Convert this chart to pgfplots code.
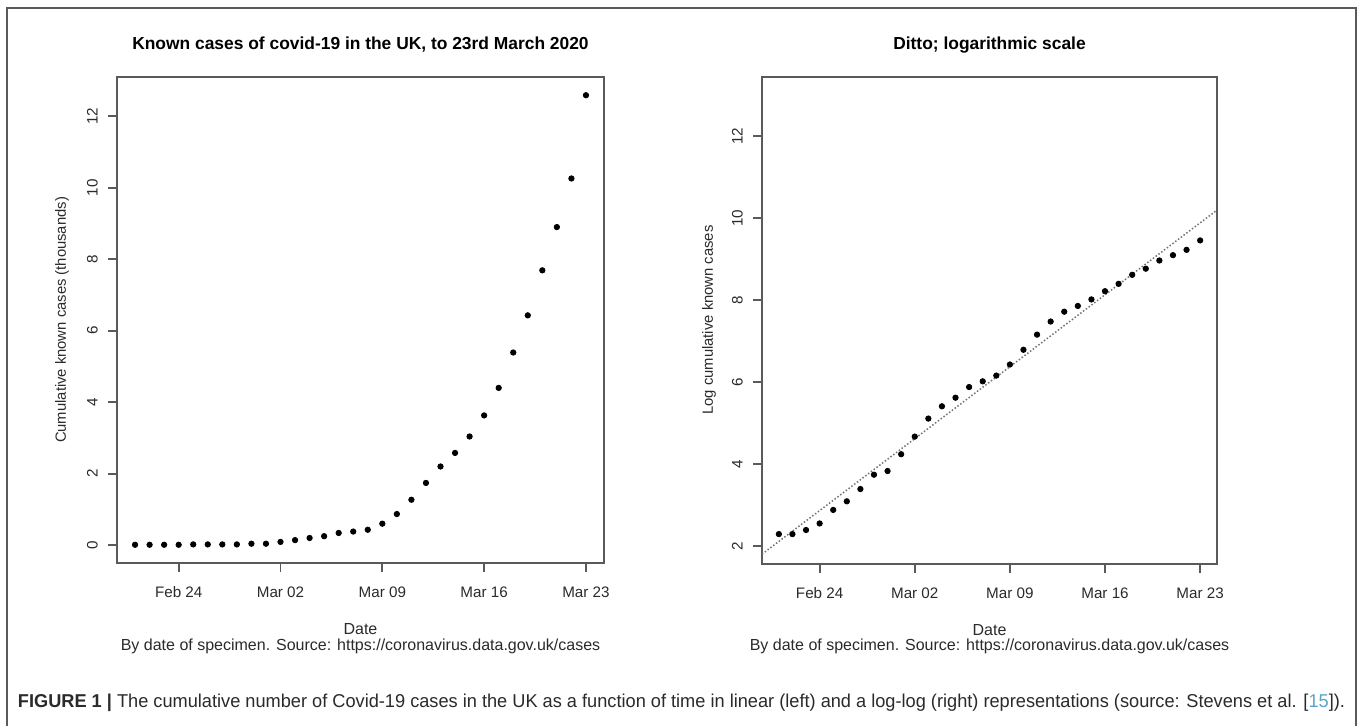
\documentclass[border=0pt]{standalone}
\usepackage{fontspec}
\setmainfont{Liberation Sans}
\usepackage{graphicx}
\usepackage{pgfplots}
\usepackage{pgfplotstable}
\pgfplotsset{compat=1.18}
\definecolor{axgray}{HTML}{5A5A5A}
\definecolor{txt}{HTML}{2A2A2A}
\definecolor{capblue}{HTML}{5BA3C9}

\pgfplotstableread{
day val
-3 0.01
-2 0.01
-1 0.01
0 0.01
1 0.02
2 0.02
3 0.02
4 0.02
5 0.04
6 0.04
7 0.09
8 0.14
9 0.20
10 0.25
11 0.34
12 0.38
13 0.43
14 0.60
15 0.87
16 1.27
17 1.74
18 2.20
19 2.58
20 3.04
21 3.63
22 4.40
23 5.39
24 6.43
25 7.69
26 8.90
27 10.26
28 12.59
}\lineartable

\pgfplotstableread{
day val
-3 2.29
-2 2.29
-1 2.39
0 2.55
1 2.88
2 3.09
3 3.39
4 3.74
5 3.83
6 4.24
7 4.67
8 5.11
9 5.41
10 5.62
11 5.88
12 6.02
13 6.16
14 6.43
15 6.79
16 7.16
17 7.48
18 7.72
19 7.86
20 8.02
21 8.22
22 8.40
23 8.62
24 8.77
25 8.97
26 9.10
27 9.23
28 9.46
}\logtable

\pgfplotstableread{
day val
-4.24 1.80
29.24 10.20
}\fittable

\pgfplotsset{rstyle/.style={
  scale only axis,
  axis line style={axgray, line width=0.9pt},
  xmin=-4.24, xmax=29.24,
  xtick={0,7,14,21,28},
  xticklabels={Feb 24, Mar 02, Mar 09, Mar 16, Mar 23},
  xtick pos=left, ytick pos=left,
  tick align=outside,
  major tick length=4.5pt,
  tick style={axgray, line width=0.9pt},
  ticklabel style={font=\fontsize{7.6}{9}\selectfont, text=txt},
  xticklabel style={text height=1.6ex, text depth=0.2ex},
  /pgf/number format/assume math mode=true,
  yticklabel style={rotate=90, anchor=south},
  xticklabel shift=0.8pt,
  yticklabel shift=1.6pt,
}}

\begin{document}
\begin{tikzpicture}
\useasboundingbox (0,0) rectangle (678.5pt,-363pt);
\draw[axgray, line width=0.8pt] (3.5pt,-370pt) -- (3.5pt,-4pt) -- (678pt,-4pt) -- (678pt,-370pt);

\begin{axis}[rstyle,
  at={(58.5pt,-281.5pt)}, anchor=south west,
  width=243.5pt, height=243pt,
  ymin=-0.5, ymax=13.1,
  ytick={0,2,4,6,8,10,12},
]
\addplot[only marks, mark=*, mark size=1.35pt, black] table[x=day, y=val] {\lineartable};
\end{axis}

\begin{axis}[rstyle,
  at={(381pt,-282pt)}, anchor=south west,
  width=227.5pt, height=243.5pt,
  ymin=1.56, ymax=13.45,
  ytick={2,4,6,8,10,12},
]
\addplot[black!55, densely dotted, line width=0.75pt] table[x=day, y=val] {\fittable};
\addplot[only marks, mark=*, mark size=1.35pt, black] table[x=day, y=val] {\logtable};
\end{axis}

\begin{scope}[x=0.5pt, y=-0.5pt]
\node[anchor=base, font=\bfseries\fontsize{8.7}{10}\selectfont, text=black] at (360.5,50) {Known cases of covid-19 in the UK, to 23rd March 2020};
\node[anchor=base, font=\bfseries\fontsize{8.7}{10}\selectfont, text=black] at (989.5,50) {Ditto; logarithmic scale};
\node[rotate=90, font=\fontsize{7.4}{9}\selectfont, text=txt] at (62,320) {Cumulative known cases (thousands)};
\node[rotate=90, font=\fontsize{7.4}{9}\selectfont, text=txt] at (709,320) {Log cumulative known cases};
\node[anchor=base, font=\fontsize{8}{9}\selectfont, text=txt] at (360.5,635) {Date};
\node[anchor=base, font=\fontsize{8}{9}\selectfont, text=txt] at (989.5,636) {Date};
\node[anchor=base, font=\fontsize{8}{9}\selectfont, text=txt] at (360.5,651) {By date of specimen. Source: https://coronavirus.data.gov.uk/cases};
\node[anchor=base, font=\fontsize{8}{9}\selectfont, text=txt] at (989.5,651) {By date of specimen. Source: https://coronavirus.data.gov.uk/cases};
\node[anchor=base, inner sep=0pt] at (681.5,708) {\resizebox{663.5pt}{\height}{\fontsize{9.3}{11}\selectfont\textcolor{txt}{\textbf{FIGURE 1 |} The cumulative number of Covid-19 cases in the UK as a function of time in linear (left) and a log-log (right) representations (source: Stevens et al. [\textcolor{capblue}{15}]).}}};
\end{scope}
\end{tikzpicture}
\end{document}
